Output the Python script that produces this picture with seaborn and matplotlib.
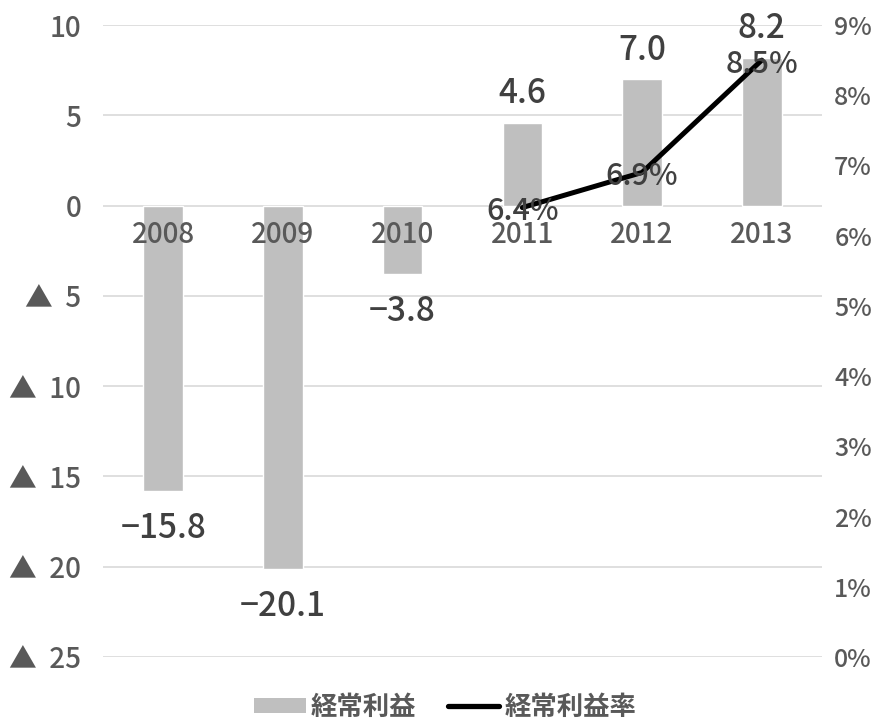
import matplotlib
matplotlib.use("Agg")
import matplotlib.pyplot as plt
import seaborn as sns
import pandas as pd
from matplotlib.ticker import FuncFormatter, MultipleLocator
from matplotlib.patches import Patch
from matplotlib.lines import Line2D

years = ["2008", "2009", "2010", "2011", "2012", "2013"]
profit = [-15.8, -20.1, -3.8, 4.6, 7.0, 8.2]
rate_years = ["2011", "2012", "2013"]
rate = [6.4, 6.9, 8.5]
bar_label = "経常利益"
line_label = "経常利益率"

sns.set_theme(style="white")
plt.rcParams["font.family"] = ["Noto Sans CJK JP", "DejaVu Sans"]
plt.rcParams["font.weight"] = "medium"

tick_col = "#595959"
lab_col = "#404040"

fig = plt.figure(figsize=(8.75, 7.21), dpi=100)
ax = fig.add_axes([0.118, 0.0888, 0.821, 0.8765])

df = pd.DataFrame({"year": years, "profit": profit})
sns.barplot(data=df, x="year", y="profit", order=years, color="#BFBFBF",
            width=0.33, saturation=1, ax=ax, zorder=2)
ax.set_xlim(-0.5, len(years) - 0.5)
ax.set_ylim(-25, 10)
ax.yaxis.set_major_locator(MultipleLocator(5))
ax.yaxis.set_major_formatter(FuncFormatter(
    lambda v, p: f"▲  {abs(v):.0f}" if v < 0 else f"{v:.0f}"))
ax.grid(axis="y", color="#D9D9D9", linewidth=1.2, zorder=0)
ax.set_axisbelow(True)
ax.set_xticks([])
ax.set_xlabel("")
ax.set_ylabel("")
for s in ax.spines.values():
    s.set_visible(False)
ax.tick_params(axis="y", length=0, labelsize=20, labelcolor=tick_col, pad=16)

for i, y in enumerate(years):
    ax.annotate(y, (i, 0), xytext=(0, -21), textcoords="offset points",
                ha="center", va="center", fontsize=20, color=tick_col)

for i, v in enumerate(profit):
    off = 21 if v >= 0 else -27
    ax.annotate(f"{v:.1f}".replace("-", "−"), (i, v), xytext=(0, off),
                textcoords="offset points", ha="center", va="center",
                fontsize=24, color=lab_col)

ax2 = ax.twinx()
ldf = pd.DataFrame({"pos": [years.index(y) for y in rate_years], "rate": rate})
sns.lineplot(data=ldf, x="pos", y="rate", color="black", linewidth=3.6, ax=ax2)
ax2.set_ylim(0, 9)
ax2.set_xlim(-0.5, len(years) - 0.5)
ax2.yaxis.set_major_locator(MultipleLocator(1))
ax2.yaxis.set_major_formatter(FuncFormatter(lambda v, p: f"{v:.0f}%"))
ax2.tick_params(axis="y", length=0, labelsize=18, labelcolor=tick_col, pad=9)
ax2.set_xlabel("")
ax2.set_ylabel("")
ax2.grid(False)
for s in ax2.spines.values():
    s.set_visible(False)
for x, v in zip(ldf["pos"], ldf["rate"]):
    ax2.annotate(f"{v:.1f}%", (x, v), xytext=(0, -3), textcoords="offset points",
                 ha="center", va="center", fontsize=22, color=lab_col)

handles = [Patch(facecolor="#BFBFBF", edgecolor="none", label=bar_label),
           Line2D([0], [0], color="black", linewidth=3.8, label=line_label)]
leg = fig.legend(handles=handles, loc="center", bbox_to_anchor=(0.509, 0.019),
                 ncol=2, frameon=False, handlelength=1.95, handleheight=0.5,
                 handletextpad=0.2, columnspacing=1.2,
                 prop={"size": 19, "weight": "bold"})
for t in leg.get_texts():
    t.set_color(tick_col)

fig.savefig("out.png", dpi=100)
